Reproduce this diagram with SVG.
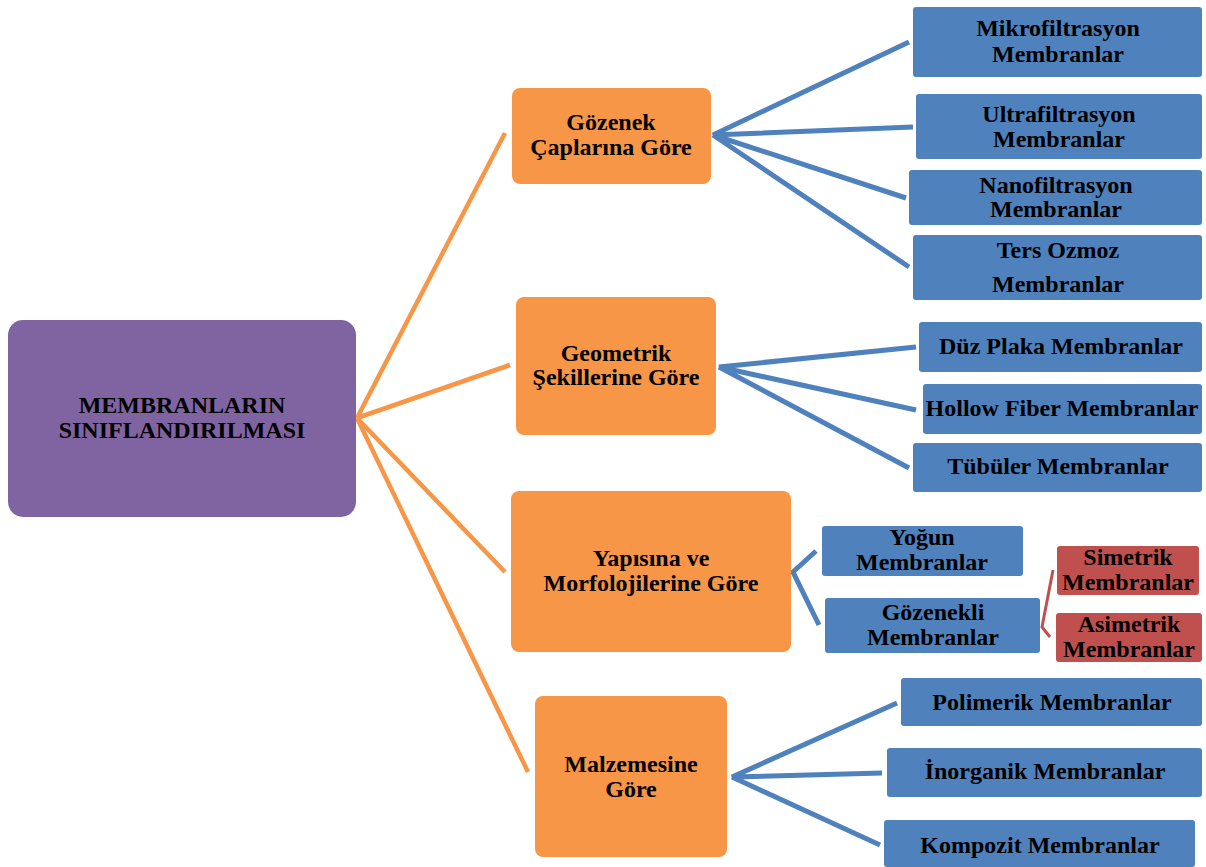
<svg xmlns="http://www.w3.org/2000/svg" width="1206" height="867" viewBox="0 0 1206 867">
<style>
text{font-family:"Liberation Serif","Times New Roman",serif;font-weight:bold;font-size:24px;fill:#000;text-anchor:middle}
.root{fill:#8064A2}
.cat{fill:#F79646}
.leaf{fill:#4F81BD}
.red{fill:#C0504D}
.co{stroke:#F79646;stroke-width:4.5;fill:none}
.cb{stroke:#4F81BD;stroke-width:5;fill:none}
.cr{stroke:#C0504D;stroke-width:3;fill:none}
</style>
<rect width="1206" height="867" fill="#fff"/>
<g id="connectors">
<path class="co" d="M357 418 L505 133 M357 418 L510 365 M357 418 L505 572 M357 418 L528 772"/>
<path class="cb" d="M909 42 L713 135 L913 127 M713 135 L906 198 M713 135 L909 267"/>
<path class="cb" d="M916 347 L719 367 L916 410 M719 367 L909 468"/>
<path class="cb" d="M816 551 L793 572 L819 625"/>
<path class="cr" d="M1053 570 L1042 627 L1050 637"/>
<path class="cb" d="M897 703 L732 777 L882 773 M732 777 L880 845"/>
</g>
<g id="root"><rect class="root" x="8" y="320" width="348" height="197" rx="15"/><text x="182" y="413">MEMBRANLARIN</text><text x="182" y="438">SINIFLANDIRILMASI</text></g>
<g id="gozenek"><rect class="cat" x="512" y="88" width="199" height="96" rx="8"/><text x="611" y="130">Gözenek</text><text x="611" y="155">Çaplarına Göre</text></g>
<g id="geometrik"><rect class="cat" x="516" y="297" width="200" height="138" rx="8"/><text x="616" y="361">Geometrik</text><text x="616" y="385">Şekillerine Göre</text></g>
<g id="yapisina"><rect class="cat" x="511" y="491" width="280" height="161" rx="8"/><text x="651" y="566">Yapısına ve</text><text x="651" y="591">Morfolojilerine Göre</text></g>
<g id="malzeme"><rect class="cat" x="535" y="696" width="192" height="161" rx="8"/><text x="631" y="772">Malzemesine</text><text x="631" y="797">Göre</text></g>
<g id="mikro"><rect class="leaf" x="913" y="7" width="289" height="70" rx="3"/><text x="1058" y="36">Mikrofiltrasyon</text><text x="1058" y="62">Membranlar</text></g>
<g id="ultra"><rect class="leaf" x="916" y="94" width="286" height="65" rx="3"/><text x="1059" y="122">Ultrafiltrasyon</text><text x="1059" y="147">Membranlar</text></g>
<g id="nano"><rect class="leaf" x="909" y="170" width="293" height="55" rx="3"/><text x="1056" y="193">Nanofiltrasyon</text><text x="1056" y="217">Membranlar</text></g>
<g id="ters"><rect class="leaf" x="913" y="235" width="289" height="65" rx="3"/><text x="1058" y="258">Ters Ozmoz</text><text x="1058" y="292">Membranlar</text></g>
<g id="duz"><rect class="leaf" x="919" y="322" width="283" height="50" rx="3"/><text x="1061" y="354">Düz Plaka Membranlar</text></g>
<g id="hollow"><rect class="leaf" x="923" y="384" width="279" height="50" rx="3"/><text x="1062" y="416">Hollow Fiber Membranlar</text></g>
<g id="tubuler"><rect class="leaf" x="913" y="443" width="289" height="49" rx="3"/><text x="1058" y="474">Tübüler Membranlar</text></g>
<g id="yogun"><rect class="leaf" x="822" y="526" width="201" height="50" rx="3"/><text x="922" y="545">Yoğun</text><text x="922" y="570">Membranlar</text></g>
<g id="gozenekli"><rect class="leaf" x="825" y="598" width="215" height="55" rx="3"/><text x="933" y="620">Gözenekli</text><text x="933" y="645">Membranlar</text></g>
<g id="simetrik"><rect class="red" x="1057" y="546" width="142" height="49" rx="3"/><text x="1128" y="565">Simetrik</text><text x="1128" y="590">Membranlar</text></g>
<g id="asimetrik"><rect class="red" x="1056" y="613" width="146" height="49" rx="3"/><text x="1129" y="632">Asimetrik</text><text x="1129" y="657">Membranlar</text></g>
<g id="polimerik"><rect class="leaf" x="901" y="678" width="301" height="48" rx="3"/><text x="1052" y="710">Polimerik Membranlar</text></g>
<g id="inorganik"><rect class="leaf" x="887" y="748" width="315" height="49" rx="3"/><text x="1045" y="779">İnorganik Membranlar</text></g>
<g id="kompozit"><rect class="leaf" x="884" y="820" width="311" height="47" rx="3"/><text x="1040" y="853">Kompozit Membranlar</text></g>
</svg>
